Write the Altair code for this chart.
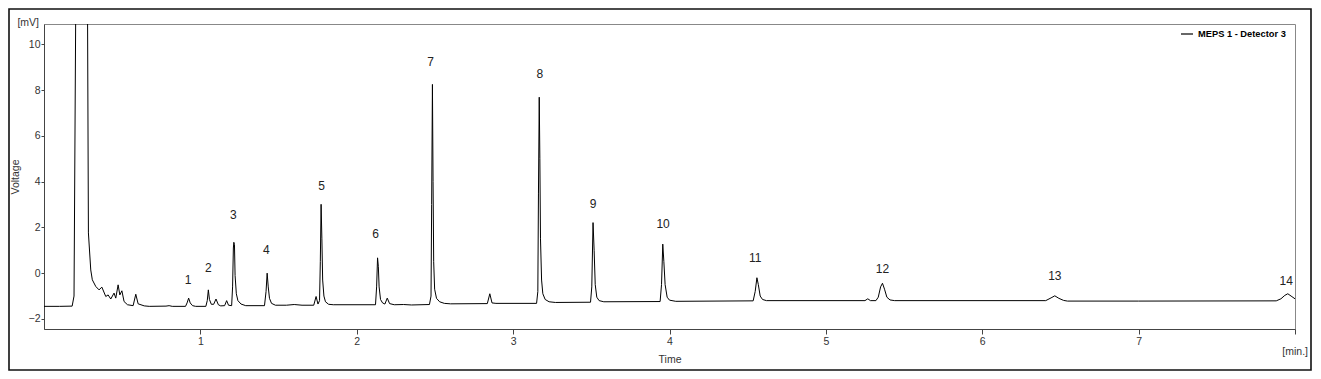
import altair as alt
import pandas as pd

# ---- data ----
time_min = [
    0.00, 0.10, 0.18, 0.192, 0.205, 0.277, 0.284, 0.299, 0.309, 0.331,
    0.352, 0.370, 0.395, 0.410, 0.427, 0.448, 0.459, 0.474, 0.485, 0.498,
    0.512, 0.534, 0.570, 0.587, 0.602, 0.641, 0.673, 0.780, 0.800, 0.820,
    0.905, 0.915, 0.925, 0.935, 0.950, 0.970,
    1.035, 1.044, 1.051, 1.058, 1.070, 1.085, 1.100, 1.115, 1.130,
    1.155, 1.168, 1.180, 1.200, 1.206, 1.211, 1.214, 1.218, 1.222, 1.230,
    1.240, 1.260, 1.290,
    1.410, 1.420, 1.427, 1.434, 1.442, 1.455, 1.480, 1.550, 1.600, 1.650,
    1.725, 1.740, 1.752, 1.762, 1.767, 1.772, 1.777, 1.782, 1.790, 1.800,
    1.820, 1.850,
    2.120, 2.127, 2.133, 2.138, 2.143, 2.152, 2.165, 2.180, 2.195, 2.210,
    2.240, 2.300, 2.350,
    2.465, 2.475, 2.479, 2.484, 2.488, 2.492, 2.498, 2.510, 2.530, 2.560, 2.600,
    2.835, 2.851, 2.865, 2.890,
    3.150, 3.158, 3.162, 3.167, 3.171, 3.175, 3.182, 3.190, 3.205, 3.230, 3.270,
    3.495, 3.503, 3.511, 3.518, 3.525, 3.535, 3.550, 3.580,
    3.940, 3.949, 3.957, 3.964, 3.972, 3.985, 4.000, 4.040,
    4.535, 4.548, 4.559, 4.568, 4.580, 4.595, 4.620,
    5.250, 5.268, 5.285, 5.320, 5.335, 5.350, 5.362, 5.375, 5.390, 5.410, 5.440,
    6.406, 6.440, 6.464, 6.490, 6.520, 6.545, 7.000,
    7.880, 7.910, 7.935, 7.954, 7.975, 8.000,
]
voltage_mv = [
    -1.45, -1.45, -1.44, -1.00, 14.0, 14.0, 1.76, 0.14, -0.29, -0.58,
    -0.73, -0.61, -1.02, -0.95, -1.13, -0.87, -1.09, -0.51, -0.95, -0.77,
    -1.24, -1.38, -1.42, -0.92, -1.34, -1.43, -1.45, -1.44, -1.42, -1.45,
    -1.45, -1.30, -1.09, -1.30, -1.42, -1.45,
    -1.45, -1.20, -0.73, -1.15, -1.36, -1.36, -1.13, -1.38, -1.43,
    -1.42, -1.20, -1.40, -1.42, -0.60, 1.10, 1.35, 1.25, -0.10, -0.90,
    -1.20, -1.35, -1.42,
    -1.42, -0.80, 0.00, -0.60, -1.10, -1.32, -1.40, -1.40, -1.37, -1.40,
    -1.40, -1.02, -1.35, -1.20, 0.50, 3.01, 1.50, -0.30, -1.00, -1.25,
    -1.36, -1.38,
    -1.38, -0.60, 0.67, 0.30, -0.60, -1.15, -1.30, -1.35, -1.09, -1.33,
    -1.38, -1.37, -1.39,
    -1.37, -1.00, 3.00, 8.25, 4.00, 0.50, -0.70, -1.10, -1.25, -1.32, -1.34,
    -1.33, -0.90, -1.30, -1.32,
    -1.32, -0.80, 3.50, 7.69, 5.00, 1.50, -0.30, -0.90, -1.15, -1.25, -1.28,
    -1.27, -0.60, 2.21, 1.00, -0.50, -1.05, -1.20, -1.25,
    -1.24, -0.50, 1.27, 0.50, -0.50, -1.05, -1.18, -1.23,
    -1.21, -0.80, -0.20, -0.50, -1.00, -1.15, -1.20,
    -1.20, -1.12, -1.20, -1.20, -1.05, -0.60, -0.44, -0.70, -1.05, -1.17, -1.20,
    -1.20, -1.08, -0.99, -1.10, -1.19, -1.22, -1.22,
    -1.21, -1.12, -0.97, -0.90, -1.00, -1.12,
]
series_name = "MEPS 1 - Detector 3"

peak_ids = ["1", "2", "3", "4", "5", "6", "7", "8", "9", "10", "11", "12", "13", "14"]
peak_label_time = [0.922, 1.051, 1.211, 1.422, 1.775, 2.120, 2.473, 3.171,
                   3.511, 3.959, 4.548, 5.362, 6.464, 7.944]
peak_label_mv = [-0.29, 0.23, 2.55, 1.02, 3.81, 1.72, 9.23, 8.70,
                 3.03, 2.15, 0.67, 0.19, -0.12, -0.33]

x_ticks = [1, 2, 3, 4, 5, 6, 7, 8]
y_ticks = [-2, 0, 2, 4, 6, 8, 10]
x_domain = [0, 8]
y_domain = [-2.44, 10.89]

W, H = 1251, 305
FONT = "Liberation Sans"

trace = pd.DataFrame({"Time": time_min, "Voltage": voltage_mv, "series": series_name})
labels = pd.DataFrame({"Time": peak_label_time, "Voltage": peak_label_mv, "id": peak_ids})
one = pd.DataFrame({"k": [0]})

x_enc = alt.X(
    "Time:Q",
    scale=alt.Scale(domain=x_domain, nice=False, zero=False),
    axis=alt.Axis(
        values=x_ticks, title="Time", grid=False, tickSize=5, labelPadding=2,
        format="d",
        labelExpr="datum.value == 8 ? '' : datum.label",
        titleY=30, titleBaseline="middle", titleFontWeight="normal",
        titleFontSize=10.5, titleFont=FONT, titleColor="#333",
    ),
)
y_enc = alt.Y(
    "Voltage:Q",
    scale=alt.Scale(domain=y_domain, nice=False, zero=False),
    axis=alt.Axis(
        values=y_ticks, title="Voltage", grid=False, tickSize=3, labelPadding=1,
        format="d",
        titleX=-29, titleY=H / 2, titleAngle=-90, titleAlign="center",
        titleBaseline="middle", titleFontWeight="normal", titleFontSize=10.5,
        titleFont=FONT, titleColor="#333",
    ),
)

line = alt.Chart(trace).mark_line(strokeWidth=1, clip=True).encode(
    x=x_enc,
    y=y_enc,
    color=alt.Color(
        "series:N",
        scale=alt.Scale(range=["#000000"]),
        legend=alt.Legend(
            title=None, orient="none", legendX=1136, legendY=3, padding=0,
            symbolType="stroke", symbolSize=144, symbolStrokeWidth=1.2,
            labelFont=FONT, labelFontSize=9.3, labelFontWeight="bold",
            labelColor="#000", symbolOffset=0, labelOffset=4,
        ),
    ),
)

peak_text = alt.Chart(labels).mark_text(
    font=FONT, fontSize=12, color="#222", baseline="middle", align="center"
).encode(x="Time:Q", y="Voltage:Q", text="id:N")

mv_text = alt.Chart(one).mark_text(
    text="[mV]", font=FONT, fontSize=10.5, color="#333", align="right", baseline="middle"
).encode(x=alt.value(-5), y=alt.value(-1))

min_text = alt.Chart(one).mark_text(
    text="[min.]", font=FONT, fontSize=10.5, color="#333", align="right", baseline="middle"
).encode(x=alt.value(1264), y=alt.value(328))

frame = alt.Chart(one).mark_rect(
    filled=False, stroke="#111", strokeWidth=1.6
).encode(x=alt.value(-35), x2=alt.value(1267), y=alt.value(-15), y2=alt.value(346))

chart = (
    alt.layer(line, peak_text, mv_text, min_text, frame)
    .properties(
        width=W, height=H,
        autosize=alt.AutoSizeParams(type="none"),
        padding={"left": 36, "top": 16, "right": 18, "bottom": 42},
    )
    .configure_view(stroke="#888", strokeWidth=1)
    .configure_axis(
        domainColor="#444", tickColor="#444", labelColor="#333",
        labelFont=FONT, labelFontSize=10.5,
    )
)

chart.save("out.html", embed_options={"renderer": "svg", "actions": False})
